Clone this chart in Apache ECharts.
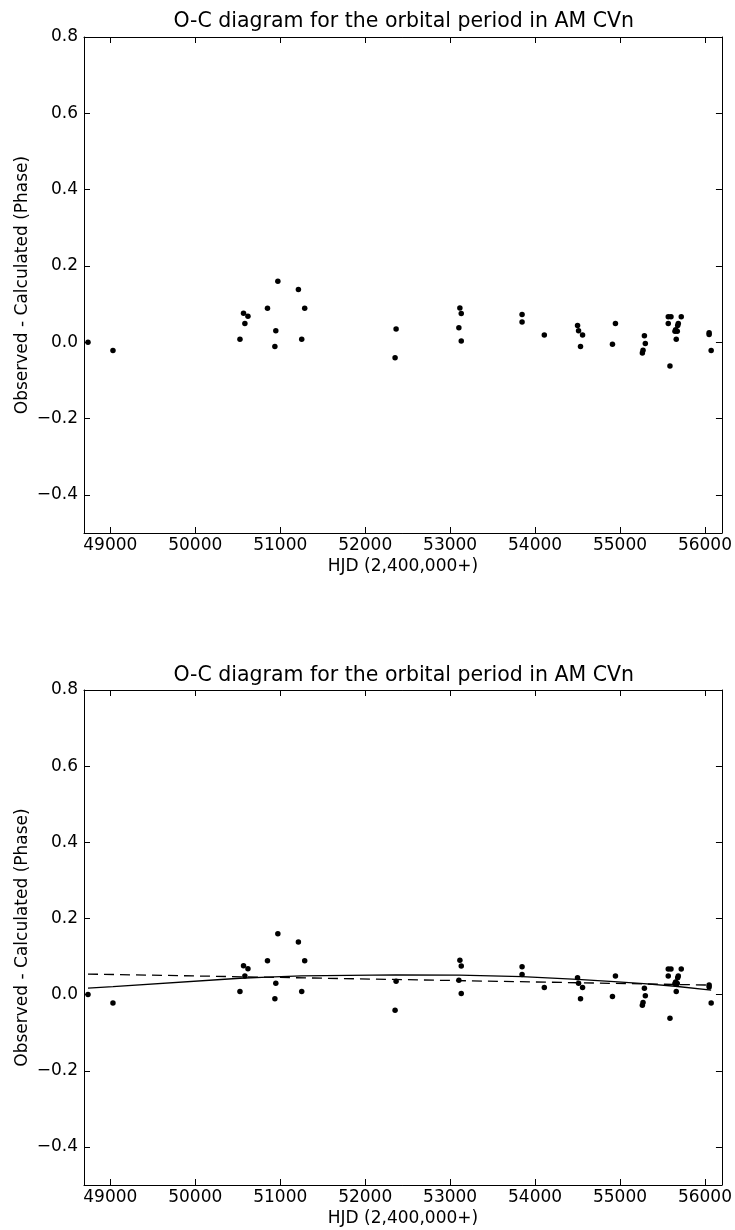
<!DOCTYPE html>
<html><head><meta charset="utf-8">
<script src="https://cdn.jsdelivr.net/npm/echarts@6/dist/echarts.min.js"></script>
<style>html,body{margin:0;padding:0;background:#fff}#c{width:735px;height:1230px}</style>
</head><body><div id="c"></div>
<script>
const hjd = [48737, 49031, 50526, 50568, 50620, 50584, 50850, 50972, 50948, 50937, 51214, 51288, 51253, 52364, 52352, 53115, 53131, 53103, 53131, 53847, 53847, 54109, 54500, 54512, 54559, 54535, 54946, 54911, 55287, 55298, 55271, 55263, 55568, 55600, 55721, 55568, 55686, 55679, 55655, 55647, 55674, 55662, 55588, 56049, 56049, 56073];
const oc = [0.000, -0.022, 0.008, 0.076, 0.068, 0.049, 0.089, 0.160, 0.030, -0.011, 0.138, 0.089, 0.008, 0.035, -0.041, 0.090, 0.075, 0.038, 0.003, 0.073, 0.053, 0.019, 0.044, 0.030, 0.019, -0.011, 0.049, -0.005, 0.017, -0.003, -0.021, -0.028, 0.067, 0.067, 0.067, 0.049, 0.049, 0.044, 0.033, 0.029, 0.029, 0.008, -0.062, 0.025, 0.020, -0.022];
const quadX = [48737, 49031, 50526, 50850, 51250, 52360, 53110, 53847, 54500, 54930, 55280, 55650, 56073];
const quadY = [0.017, 0.021, 0.043, 0.046, 0.049, 0.052, 0.051, 0.047, 0.040, 0.034, 0.029, 0.022, 0.012];
const linX = [48737, 56073];
const linY = [0.054, 0.025];
const xTicks = [49000, 50000, 51000, 52000, 53000, 54000, 55000, 56000];
const yTicks = [-0.4, -0.2, 0.0, 0.2, 0.4, 0.6, 0.8];
const titleText = 'O-C diagram for the orbital period in AM CVn';
const xName = 'HJD (2,400,000+)';
const yName = 'Observed - Calculated (Phase)';

const FONT = 'DejaVu Sans';
const FS = 17;
const grids = [
  {left: 84, top: 37, width: 639, height: 496},
  {left: 84, top: 690, width: 639, height: 495}
];
const lineStyle = {color: '#000', width: 1};
function xAx(gi, pos) {
  const main = pos === 'bottom';
  return {
    type: 'value', gridIndex: gi, position: pos, min: 48690, max: 56200,
    axisLine: {show: true, onZero: false, lineStyle},
    axisTick: {show: true, inside: true, length: 6, customValues: xTicks, lineStyle},
    axisLabel: {show: main, customValues: xTicks, margin: 4, color: '#000', fontSize: FS, fontFamily: FONT,
      formatter: v => String(Math.round(v))},
    splitLine: {show: false},
    name: main ? xName : '', nameLocation: 'middle', nameGap: 25, nameMoveOverlap: false,
    nameTextStyle: {color: '#000', fontSize: FS, fontFamily: FONT}
  };
}
function yAx(gi, pos) {
  const main = pos === 'left';
  return {
    type: 'value', gridIndex: gi, position: pos, min: -0.5, max: 0.8,
    axisLine: {show: true, onZero: false, lineStyle},
    axisTick: {show: true, inside: true, length: 6, customValues: yTicks, lineStyle},
    axisLabel: {show: main, customValues: yTicks, margin: 6, color: '#000', fontSize: FS, fontFamily: FONT,
      formatter: v => (v < -1e-9 ? '\u2212' : '') + Math.abs(v).toFixed(1)},
    splitLine: {show: false},
    name: main ? yName : '', nameLocation: 'middle', nameGap: 53, nameRotate: 90, nameMoveOverlap: false,
    nameTextStyle: {color: '#000', fontSize: FS, fontFamily: FONT}
  };
}
const pts = hjd.map((x, i) => [x, oc[i]]);
const quad = quadX.map((x, i) => [x, quadY[i]]);
const lin = linX.map((x, i) => [x, linY[i]]);
const chart = echarts.init(document.getElementById('c'), null, {renderer: 'canvas'});
const dot = {color: '#000', opacity: 1};
chart.setOption({
  animation: false,
  backgroundColor: '#fff',
  grid: grids,
  xAxis: [xAx(0, 'bottom'), xAx(0, 'top'), xAx(1, 'bottom'), xAx(1, 'top')],
  yAxis: [yAx(0, 'left'), yAx(0, 'right'), yAx(1, 'left'), yAx(1, 'right')],
  graphic: [
    {type: 'text', x: 403.7, y: 22, style: {text: titleText, fill: '#000', font: '20.5px "DejaVu Sans"', align: 'center', verticalAlign: 'middle'}},
    {type: 'text', x: 403.7, y: 675.5, style: {text: titleText, fill: '#000', font: '20.5px "DejaVu Sans"', align: 'center', verticalAlign: 'middle'}}
  ],
  series: [
    {type: 'scatter', xAxisIndex: 0, yAxisIndex: 0, data: pts, symbol: 'circle', symbolSize: 5.5, itemStyle: dot},
    {type: 'line', xAxisIndex: 2, yAxisIndex: 2, data: quad, showSymbol: false, lineStyle: {color: '#000', width: 1.3}, z: 3},
    {type: 'line', xAxisIndex: 2, yAxisIndex: 2, data: lin, showSymbol: false, lineStyle: {color: '#000', width: 1.3, type: [10, 6]}, z: 3},
    {type: 'scatter', xAxisIndex: 2, yAxisIndex: 2, data: pts, symbol: 'circle', symbolSize: 5.5, itemStyle: dot, z: 4}
  ]
});
</script>
</body></html>
